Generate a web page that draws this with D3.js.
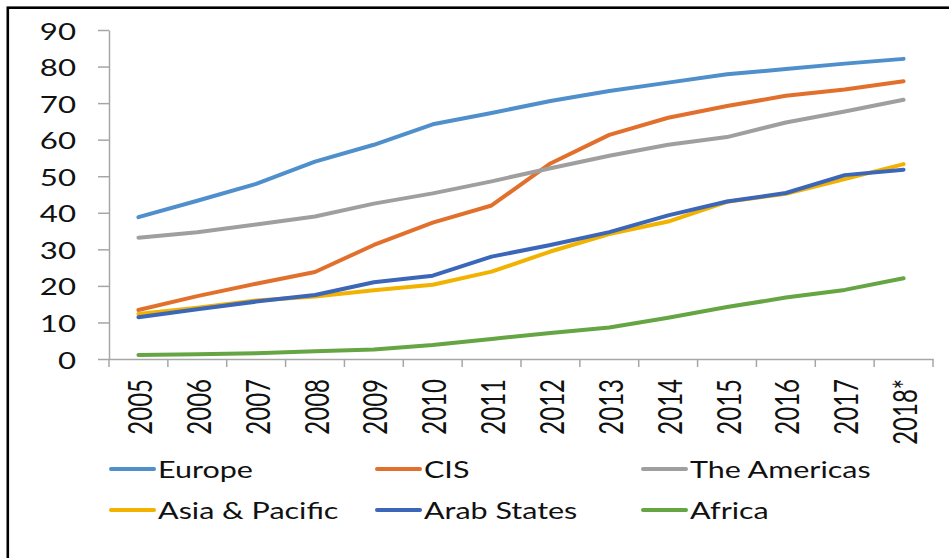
<!DOCTYPE html>
<html>
<head>
<meta charset="utf-8">
<script src="https://cdn.jsdelivr.net/npm/d3@7"></script>
<style>
  html, body { margin: 0; padding: 0; background: #fff; overflow: hidden; }
  svg { display: block; }
</style>
</head>
<body>
<div id="chart"></div>
<script>
const years = ['2005', '2006', '2007', '2008', '2009', '2010', '2011', '2012', '2013', '2014', '2015', '2016', '2017', '2018*'];
const yTicks = [0, 10, 20, 30, 40, 50, 60, 70, 80, 90];

const seriesNames = ['Europe', 'CIS', 'The Americas', 'Asia & Pacific', 'Arab States', 'Africa'];
const seriesColors = ['#4f8fcb', '#e2702d', '#9f9f9f', '#f2b200', '#3c66b8', '#66a543'];

const europe = [38.8, 43.3, 47.9, 54.0, 58.6, 64.2, 67.3, 70.6, 73.3, 75.6, 77.9, 79.3, 80.8, 82.1];
const cis = [13.4, 17.2, 20.6, 23.8, 31.2, 37.3, 42.0, 53.5, 61.3, 66.0, 69.2, 72.0, 73.7, 76.0];
const americas = [33.2, 34.7, 36.8, 39.0, 42.5, 45.3, 48.6, 52.2, 55.6, 58.6, 60.7, 64.7, 67.7, 70.9];
const asiaPacific = [12.3, 14.0, 16.0, 17.1, 18.8, 20.3, 23.9, 29.4, 34.2, 37.6, 43.0, 45.2, 49.2, 53.3];
const arabStates = [11.4, 13.6, 15.7, 17.5, 21.0, 22.8, 28.0, 31.2, 34.7, 39.3, 43.1, 45.4, 50.3, 51.8];
const africa = [1.1, 1.3, 1.6, 2.1, 2.6, 3.8, 5.5, 7.1, 8.6, 11.3, 14.2, 16.8, 18.9, 22.1];

const seriesValues = [europe, cis, americas, asiaPacific, arabStates, africa];

const W = 949, H = 558;
const margin = { top: 30, right: 16, bottom: 199, left: 109 };
const width = W - margin.left - margin.right;
const height = H - margin.top - margin.bottom;
const sx = 1.27; // source image is stretched horizontally
const font = 'Lato, "Open Sans", sans-serif';
const axisColor = '#a6a6a6';

const root = d3.select('#chart').append('svg')
  .attr('width', W)
  .attr('height', H);

root.append('rect')
  .attr('x', 7.8).attr('y', 7.7)
  .attr('width', W + 20).attr('height', H + 20)
  .attr('fill', 'none')
  .attr('stroke', '#000')
  .attr('stroke-width', 2.6);

const svg = root.append('g')
  .attr('transform', `translate(${margin.left},${margin.top})`);

const x = d3.scaleBand().domain(years).range([0, width]).padding(0);
const y = d3.scaleLinear().domain([0, 90]).range([height, 0]);

// y axis
const yAxis = svg.append('g')
  .call(d3.axisLeft(y).tickValues(yTicks).tickSize(11).tickSizeOuter(0));
yAxis.select('.domain').attr('stroke', axisColor).attr('stroke-width', 1.5);
yAxis.selectAll('.tick line').attr('stroke', axisColor).attr('stroke-width', 1.5);
yAxis.selectAll('.tick text')
  .attr('x', null)
  .attr('dy', null)
  .attr('dominant-baseline', 'central')
  .attr('transform', 'translate(-33,0) scale(1.3,1)')
  .attr('font-family', font)
  .attr('font-size', 24)
  .attr('fill', '#111');

// x axis (labels at band centres, ticks on band edges)
const xAxis = svg.append('g')
  .attr('transform', `translate(0,${height})`)
  .call(d3.axisBottom(x).tickSize(0).tickSizeOuter(0));
xAxis.select('.domain').attr('stroke', axisColor).attr('stroke-width', 1.5);
xAxis.selectAll('.tick text')
  .attr('y', null)
  .attr('dy', null)
  .attr('text-anchor', 'end')
  .attr('dominant-baseline', 'central')
  .attr('transform', 'translate(1,20) scale(1.35,1) rotate(-90)')
  .attr('font-family', font)
  .attr('font-size', 24)
  .attr('fill', '#111');

const edges = years.map(d => x(d)).concat([x.range()[1]]);
xAxis.selectAll('.edge')
  .data(edges)
  .enter()
  .append('line')
  .attr('class', 'edge')
  .attr('x1', d => d).attr('x2', d => d)
  .attr('y1', 0).attr('y2', 8)
  .attr('stroke', axisColor)
  .attr('stroke-width', 1.5);

// lines
const line = d3.line()
  .x((d, i) => x(years[i]) + x.bandwidth() / 2)
  .y(d => y(d));

svg.selectAll('.series')
  .data(seriesValues)
  .enter()
  .append('path')
  .attr('class', 'series')
  .attr('d', d => line(d))
  .attr('fill', 'none')
  .attr('stroke', (d, i) => seriesColors[i])
  .attr('stroke-width', 4)
  .attr('stroke-linejoin', 'round')
  .attr('stroke-linecap', 'round');

// legend
const legendCols = [110, 376, 642];
const legendRows = [469, 510];
const legend = root.selectAll('.legend')
  .data(seriesNames)
  .enter()
  .append('g')
  .attr('class', 'legend')
  .attr('transform', (d, i) => `translate(${legendCols[i % 3]},${legendRows[Math.floor(i / 3)]})`);

legend.append('line')
  .attr('x1', 1).attr('x2', 44)
  .attr('y1', 0).attr('y2', 0)
  .attr('stroke', (d, i) => seriesColors[i])
  .attr('stroke-width', 4)
  .attr('stroke-linecap', 'round');

legend.append('text')
  .attr('dominant-baseline', 'central')
  .attr('transform', 'translate(48,0) scale(' + sx + ',1)')
  .attr('font-family', font)
  .attr('font-size', 24)
  .attr('fill', '#111')
  .text(d => d);
</script>
</body>
</html>
